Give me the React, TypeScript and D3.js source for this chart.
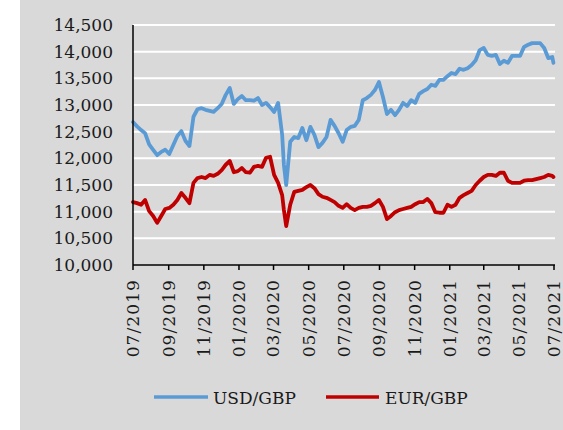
import React from 'react';
import * as d3 from 'd3';

// weekly closes, scaled x10000
const dates = [
    '2019-07-01', '2019-07-08', '2019-07-15', '2019-07-22', '2019-07-29', '2019-08-05', '2019-08-12', '2019-08-19', '2019-08-26',
    '2019-09-02', '2019-09-09', '2019-09-16', '2019-09-23', '2019-09-30', '2019-10-07', '2019-10-14', '2019-10-21', '2019-10-28',
    '2019-11-04', '2019-11-11', '2019-11-18', '2019-11-25', '2019-12-02', '2019-12-09', '2019-12-16', '2019-12-23', '2019-12-30',
    '2020-01-06', '2020-01-13', '2020-01-20', '2020-01-27', '2020-02-03', '2020-02-10', '2020-02-17', '2020-02-24', '2020-03-02',
    '2020-03-09', '2020-03-16', '2020-03-19', '2020-03-23', '2020-03-30', '2020-04-06', '2020-04-13', '2020-04-20', '2020-04-27',
    '2020-05-04', '2020-05-11', '2020-05-18', '2020-05-25', '2020-06-01', '2020-06-08', '2020-06-15', '2020-06-22', '2020-06-29',
    '2020-07-06', '2020-07-13', '2020-07-20', '2020-07-27', '2020-08-03', '2020-08-10', '2020-08-17', '2020-08-24', '2020-08-31',
    '2020-09-07', '2020-09-14', '2020-09-21', '2020-09-28', '2020-10-05', '2020-10-12', '2020-10-19', '2020-10-26', '2020-11-02',
    '2020-11-09', '2020-11-16', '2020-11-23', '2020-11-30', '2020-12-07', '2020-12-14', '2020-12-21', '2020-12-28', '2021-01-04',
    '2021-01-11', '2021-01-18', '2021-01-25', '2021-02-01', '2021-02-08', '2021-02-15', '2021-02-22', '2021-03-01', '2021-03-08',
    '2021-03-15', '2021-03-22', '2021-03-29', '2021-04-05', '2021-04-12', '2021-04-19', '2021-04-26', '2021-05-03', '2021-05-10',
    '2021-05-17', '2021-05-24', '2021-05-31', '2021-06-07', '2021-06-14', '2021-06-21', '2021-06-28', '2021-06-30'
];

const usdGbp = [
    12680, 12600, 12530, 12470, 12260, 12160, 12060, 12120, 12160,
    12080, 12250, 12420, 12510, 12330, 12230, 12780, 12920, 12940,
    12910, 12890, 12870, 12940, 13020, 13190, 13320, 13020, 13110,
    13170, 13090, 13090, 13080, 13130, 13000, 13040, 12960, 12870,
    13040, 12440, 11880, 11500, 12310, 12400, 12380, 12570, 12340,
    12590, 12440, 12210, 12290, 12400, 12720, 12610, 12470, 12310,
    12530, 12590, 12610, 12720, 13090, 13130, 13190, 13280, 13430,
    13150, 12830, 12910, 12810, 12910, 13040, 12980, 13090, 13040,
    13210, 13260, 13300, 13380, 13360, 13470, 13470, 13540, 13600,
    13580, 13680, 13660, 13690, 13750, 13840, 14030, 14070, 13940,
    13920, 13940, 13770, 13830, 13790, 13920, 13920, 13920, 14090,
    14130, 14160, 14160, 14160, 14070, 13880, 13900, 13790
];

const eurGbp = [
    11180, 11160, 11130, 11220, 11010, 10920, 10790, 10920, 11050,
    11070, 11130, 11220, 11350, 11260, 11160, 11540, 11630, 11650,
    11630, 11690, 11670, 11710, 11780, 11880, 11950, 11740, 11760,
    11820, 11740, 11730, 11840, 11860, 11840, 12010, 12030, 11690,
    11540, 11310, 11030, 10730, 11130, 11370, 11390, 11410, 11460,
    11500, 11440, 11330, 11280, 11260, 11220, 11180, 11110, 11070,
    11140, 11070, 11030, 11070, 11090, 11090, 11110, 11160, 11220,
    11090, 10860, 10920, 10990, 11030, 11050, 11070, 11090, 11140,
    11180, 11180, 11240, 11160, 10990, 10980, 10980, 11130, 11090,
    11130, 11260, 11310, 11350, 11390, 11500, 11580, 11650, 11690,
    11690, 11670, 11730, 11730, 11580, 11540, 11540, 11540, 11580,
    11590, 11590, 11610, 11630, 11650, 11690, 11670, 11650
];

const yTicks = [10000, 10500, 11000, 11500, 12000, 12500, 13000, 13500, 14000, 14500];
const xTickLabels = ['07/2019', '09/2019', '11/2019', '01/2020', '03/2020', '05/2020', '07/2020',
    '09/2020', '11/2020', '01/2021', '03/2021', '05/2021', '07/2021'];

const W = 563, H = 430;
const FONT = '"DejaVu Serif", serif';

export default function App() {
    const parse = d3.timeParse('%Y-%m-%d');
    const parseTick = d3.timeParse('%m/%Y');
    const t = dates.map(d => parse(d) as Date);

    const x = d3.scaleTime()
        .domain([parse('2019-07-01') as Date, parse('2021-07-01') as Date])
        .range([133, 554]);
    const y = d3.scaleLinear().domain([10000, 14500]).range([265, 25]);

    const line = d3.line<number>()
        .x((_, i) => x(t[i]))
        .y(d => y(d));

    const series = [
        { name: 'USD/GBP', values: usdGbp, color: '#5b9bd5' },
        { name: 'EUR/GBP', values: eurGbp, color: '#c00000' }
    ];
    const fmt = d3.format(',');

    return (
        <svg width={W} height={H} style={{ position: 'absolute', left: 0, top: 0 }}>
            <rect x={20} y={0} width={W - 20} height={H} fill="#d9d9d9" />

            {/* gridlines */}
            {yTicks.slice(1).map(v => (
                <line key={v} x1={133} x2={555} y1={y(v)} y2={y(v)} stroke="#ffffff" strokeWidth={2} />
            ))}

            {/* y labels */}
            {yTicks.map(v => (
                <text key={v} x={113} y={y(v)} dy="0.35em" textAnchor="end"
                    fontFamily={FONT} fontSize={17} fill="#1a1a1a">{fmt(v)}</text>
            ))}

            {/* series */}
            {series.map(s => (
                <path key={s.name} d={line(s.values) || ''} fill="none" stroke={s.color}
                    strokeWidth={3.8} strokeLinejoin="round" strokeLinecap="round" />
            ))}

            {/* axes */}
            <line x1={133} x2={133} y1={25} y2={265} stroke="#000" strokeWidth={1.5} />
            <line x1={133} x2={555} y1={265} y2={265} stroke="#000" strokeWidth={1.5} />
            {xTickLabels.map(lbl => {
                const xp = x(parseTick(lbl) as Date);
                return (
                    <g key={lbl}>
                        <line x1={xp} x2={xp} y1={265} y2={270} stroke="#000" strokeWidth={1.5} />
                        <text transform={`translate(${xp},279) rotate(-90)`} dy="0.35em" textAnchor="end"
                            fontFamily={FONT} fontSize={17} letterSpacing={1.1} fill="#1a1a1a">{lbl}</text>
                    </g>
                );
            })}

            {/* legend */}
            <line x1={154} x2={208} y1={397} y2={397} stroke={series[0].color} strokeWidth={3.5} />
            <text x={213} y={404} fontFamily={FONT} fontSize={17} fill="#1a1a1a">{series[0].name}</text>
            <line x1={326} x2={379} y1={397} y2={397} stroke={series[1].color} strokeWidth={3.5} />
            <text x={385} y={404} fontFamily={FONT} fontSize={17} fill="#1a1a1a">{series[1].name}</text>
        </svg>
    );
}
